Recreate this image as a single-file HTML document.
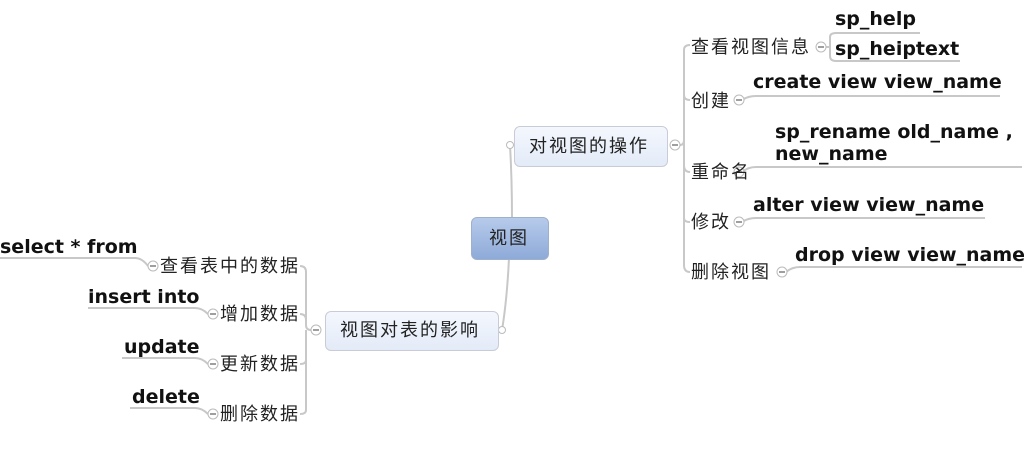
<!DOCTYPE html>
<html><head><meta charset="utf-8"><style>
body{margin:0;width:1024px;height:450px;background:#fff;position:relative;overflow:hidden}
.t{position:absolute;white-space:nowrap;line-height:1}
.c{font-family:"Liberation Sans","Noto Sans CJK SC",sans-serif;font-size:18px;letter-spacing:2px;color:#222}
.b{font-family:"DejaVu Sans",sans-serif;font-weight:bold;font-size:19px;color:#111}
.box{position:absolute;border:1px solid #c9ccd6;border-radius:6px;background:linear-gradient(#f4f7fd,#e3ebf8);box-sizing:border-box}
</style></head><body>
<svg width="1024" height="450" style="position:absolute;left:0;top:0" fill="none" stroke="#c8c8c8" stroke-width="2">
<path d="M512 218 Q512 180 510 145"/><path d="M509 258 Q507 300 502 330"/>
<path d="M680 145 Q684 145 684 140 V50 Q684 45 690 45 M684 95 Q684 100 690 100 M684 165 Q684 172 690 172 M684 218 Q684 222 690 222 M684 140 V265 Q684 272 690 272"/>
<path d="M826 47 H830 V37 Q830 33 836 33 H920 M830 47 V56 Q830 61 836 61 H960"/>
<path d="M742 100 Q748 96 756 96 H1000"/>
<path d="M742 172 Q748 167 756 167 H1022"/>
<path d="M742 222 Q748 218 756 218 H985"/>
<path d="M786 272 Q792 267 800 267 H1022"/>
<path d="M311 330 Q306 330 306 325 V272 Q306 266 300 266 M306 320 Q306 314 300 314 M306 330 V410 Q306 414 300 414 M306 360 Q306 364 300 364"/>
<path d="M148 266 Q142 258 135 258 H0"/>
<path d="M208 314 Q202 308 195 308 H88"/>
<path d="M208 364 Q202 358 195 358 H122"/>
<path d="M208 414 Q202 408 195 408 H130"/>
<g fill="#fff" stroke="#bbb" stroke-width="1">
<circle cx="510" cy="145" r="3.5"/><circle cx="502" cy="330" r="3.5"/>
<circle cx="675" cy="145" r="5"/><circle cx="316" cy="330" r="5"/>
<circle cx="821" cy="47" r="5"/><circle cx="739" cy="100" r="5"/><circle cx="739" cy="172" r="5"/><circle cx="739" cy="222" r="5"/><circle cx="782" cy="272" r="5"/>
<circle cx="153" cy="266" r="5"/><circle cx="213" cy="314" r="5"/><circle cx="213" cy="364" r="5"/><circle cx="213" cy="414" r="5"/>
</g>
<g stroke="#666" stroke-width="1.2">
<path d="M672 145h6M313 330h6M818 47h6M736 100h6M736 172h6M736 222h6M779 272h6M150 266h6M210 314h6M210 364h6M210 414h6"/>
</g>
</svg>
<div class="box" style="left:471px;top:217px;width:78px;height:43px;background:linear-gradient(#b7cbeb,#8eaad8);border-color:#9fb0cc"></div>
<div class="t c" style="left:489px;top:229px">视图</div>
<div class="box" style="left:514px;top:126px;width:154px;height:41px"></div>
<div class="t c" style="left:529px;top:137px">对视图的操作</div>
<div class="box" style="left:325px;top:311px;width:174px;height:40px"></div>
<div class="t c" style="left:340px;top:321px">视图对表的影响</div>
<div class="t c" style="left:691px;top:38px">查看视图信息</div>
<div class="t c" style="left:691px;top:92px">创建</div>
<div class="t c" style="left:691px;top:163px">重命名</div>
<div class="t c" style="left:691px;top:213px">修改</div>
<div class="t c" style="left:691px;top:263px">删除视图</div>
<div class="t b" style="left:835px;top:10px">sp_help</div>
<div class="t b" style="left:835px;top:40px">sp_heiptext</div>
<div class="t b" style="left:753px;top:73px">create view view_name</div>
<div class="t b" style="left:775px;top:123px">sp_rename old_name ,</div>
<div class="t b" style="left:775px;top:145px">new_name</div>
<div class="t b" style="left:753px;top:196px">alter view view_name</div>
<div class="t b" style="left:795px;top:246px">drop view view_name</div>
<div class="t c" style="left:160px;top:257px">查看表中的数据</div>
<div class="t c" style="left:220px;top:305px">增加数据</div>
<div class="t c" style="left:220px;top:355px">更新数据</div>
<div class="t c" style="left:220px;top:405px">删除数据</div>
<div class="t b" style="left:0px;top:238px">select * from</div>
<div class="t b" style="left:88px;top:288px">insert into</div>
<div class="t b" style="left:124px;top:338px">update</div>
<div class="t b" style="left:132px;top:388px">delete</div>
</body></html>
